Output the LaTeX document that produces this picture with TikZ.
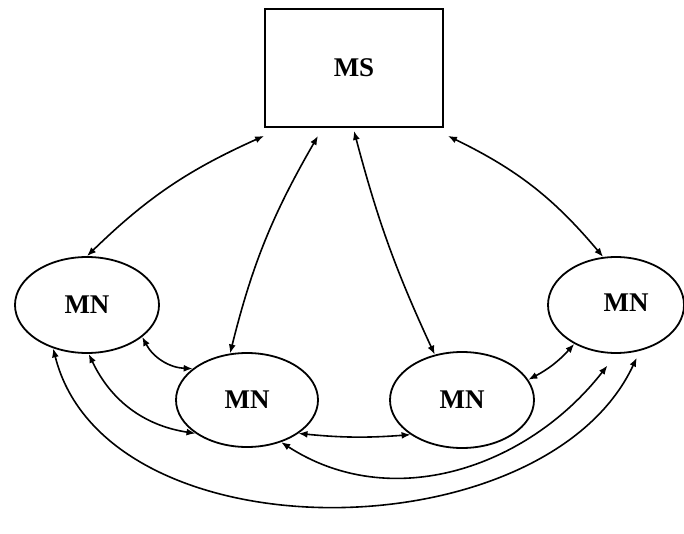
\documentclass[tikz,border=0pt]{standalone}
\usepackage{fontspec}
\setmainfont{Liberation Serif}
\usetikzlibrary{shapes.geometric,arrows.meta}
\begin{document}
\begin{tikzpicture}[x=1pt,y=1pt,
  lbl/.style={font=\fontsize{27}{32}\selectfont\bfseries},
  mnode/.style={ellipse, draw, line width=1.8pt, minimum width=144pt, minimum height=96pt, inner sep=0pt, lbl},
  msbox/.style={rectangle, draw, line width=1.8pt, minimum width=178pt, minimum height=118pt, inner sep=0pt, lbl},
  link/.style={line width=1.6pt, {Latex[length=9pt,width=7pt]}-{Latex[length=9pt,width=7pt]}}
]
\useasboundingbox (0,0) rectangle (684,533);
\node[msbox] (ms) at (354,465) {MS};
\node[mnode] (mn1) at (87,228) {MN};
\node[mnode, minimum width=142pt, minimum height=94pt] (mn2) at (247,133) {MN};
\node[mnode] (mn3) at (462,133) {MN};
\node[mnode, minimum width=136pt] (mn4) at (616,228) {};
\node[lbl] (mn4t) at (626,230) {MN};
\draw[link] ([yshift=-8pt]ms.south west) to[bend right=10] (mn1.90);
\draw[link] ([xshift=-36pt,yshift=-8pt]ms.south) to[bend right=8] (mn2.110);
\draw[link] ([yshift=-3pt]ms.south) to[bend right=5] (mn3.121);
\draw[link] ([xshift=4pt,yshift=-8pt]ms.south east) to[bend left=12] (mn4.105);
\draw[link] (mn1.-30) to[bend right=30] (mn2.150);
\draw[link] (mn1.-88) to[bend right=28] (mn2.213);
\draw[link] (mn1.232) to[out=-76,in=-115,looseness=0.95] ([yshift=-6pt]mn4.-66);
\draw[link] (mn2.-33) to[bend right=5] (mn3.214);
\draw[link] (mn2.-51) to[out=-33,in=-128] ([yshift=-12pt]mn4.-100);
\draw[link] (mn3.17) to[bend right=10] (mn4.223);
\end{tikzpicture}
\end{document}
